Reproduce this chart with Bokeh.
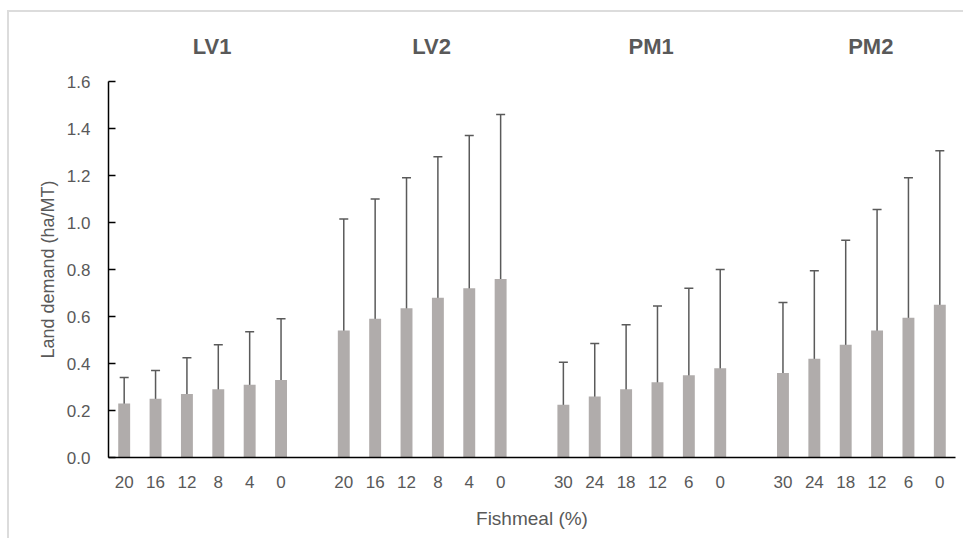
from bokeh.plotting import figure
from bokeh.models import (ColumnDataSource, Whisker, LinearAxis, FixedTicker,
                          Range1d, NumeralTickFormatter)
from bokeh.embed import file_html
from bokeh.resources import INLINE

# ---- data ----
groups = ["LV1", "LV2", "PM1", "PM2"]
lv_fishmeal = ["20", "16", "12", "8", "4", "0"]
pm_fishmeal = ["30", "24", "18", "12", "6", "0"]

LV1_mean = [0.23, 0.25, 0.27, 0.29, 0.31, 0.33]
LV1_upper = [0.34, 0.37, 0.425, 0.48, 0.535, 0.59]
LV1_lower = [0.15, 0.165, 0.18, 0.20, 0.22, 0.24]

LV2_mean = [0.54, 0.59, 0.635, 0.68, 0.72, 0.76]
LV2_upper = [1.015, 1.10, 1.19, 1.28, 1.37, 1.46]
LV2_lower = [0.32, 0.36, 0.395, 0.43, 0.455, 0.485]

PM1_mean = [0.225, 0.26, 0.29, 0.32, 0.35, 0.38]
PM1_upper = [0.405, 0.485, 0.565, 0.645, 0.72, 0.80]
PM1_lower = [0.165, 0.19, 0.22, 0.245, 0.275, 0.305]

PM2_mean = [0.36, 0.42, 0.48, 0.54, 0.595, 0.65]
PM2_upper = [0.66, 0.795, 0.925, 1.055, 1.19, 1.305]
PM2_lower = [0.24, 0.28, 0.32, 0.36, 0.40, 0.44]

y_ticks = [0.0, 0.2, 0.4, 0.6, 0.8, 1.0, 1.2, 1.4, 1.6]

# ---- assemble ----
means = [LV1_mean, LV2_mean, PM1_mean, PM2_mean]
uppers = [LV1_upper, LV2_upper, PM1_upper, PM2_upper]
lowers = [LV1_lower, LV2_lower, PM1_lower, PM2_lower]
labels = [lv_fishmeal, lv_fishmeal, pm_fishmeal, pm_fishmeal]

SLOT = 7  # 6 bars + one empty slot between groups
xs, ms, us, ls, overrides = [], [], [], [], {}
for g in range(len(groups)):
    for i in range(len(means[g])):
        x = g * SLOT + i
        xs.append(x)
        ms.append(means[g][i])
        us.append(uppers[g][i])
        ls.append(lowers[g][i])
        overrides[x] = labels[g][i]

src = ColumnDataSource(dict(x=xs, mean=ms, upper=us, lower=ls))

FONT = "Liberation Sans"
TXT = "#595959"

p = figure(width=956, height=528, output_backend="svg", toolbar_location=None,
           x_range=Range1d(-0.5, max(xs) + 0.5),
           y_range=Range1d(0, 1.6),
           min_border_left=99, min_border_right=10,
           min_border_top=69, min_border_bottom=83)
p.styles = {"border-top": "2px solid #dcdcdc", "border-left": "2px solid #dcdcdc",
            "margin-top": "10px", "margin-left": "7px"}
p.outline_line_color = None
p.xgrid.visible = False
p.ygrid.visible = False
p.xaxis.visible = False
p.yaxis.visible = False

p.vbar(x="x", top="mean", width=0.38, bottom=0, source=src,
       fill_color="#b0acab", line_color=None)

wh = Whisker(base="x", upper="upper", lower="lower", source=src,
             line_color="#5a5a5a", line_width=1.5)
wh.upper_head.size = 9
wh.lower_head.size = 9
wh.upper_head.line_color = "#5a5a5a"
wh.lower_head.line_color = "#5a5a5a"
wh.upper_head.line_width = 1.5
wh.lower_head.line_width = 1.5
p.add_layout(wh)

# y axis
ya = LinearAxis(ticker=FixedTicker(ticks=y_ticks),
                formatter=NumeralTickFormatter(format="0.0"),
                axis_label="Land demand (ha/MT)")
ya.major_tick_in = 7
ya.major_tick_out = 0
ya.minor_tick_line_color = None
ya.axis_line_color = "black"
ya.axis_line_width = 1.5
ya.major_tick_line_color = "black"
ya.major_tick_line_width = 1.5
ya.major_label_text_font = FONT
ya.major_label_text_font_size = "17px"
ya.major_label_text_color = TXT
ya.major_label_standoff = 18
ya.axis_label_text_font = FONT
ya.axis_label_text_font_size = "18px"
ya.axis_label_text_font_style = "normal"
ya.axis_label_text_color = TXT
ya.axis_label_standoff = 6
p.add_layout(ya, "left")

# bottom axis with fishmeal labels
xa = LinearAxis(ticker=FixedTicker(ticks=xs), major_label_overrides=overrides,
                axis_label="Fishmeal (%)")
xa.major_tick_in = 0
xa.major_tick_out = 0
xa.minor_tick_line_color = None
xa.axis_line_color = "black"
xa.axis_line_width = 1.5
xa.major_label_text_font = FONT
xa.major_label_text_font_size = "17px"
xa.major_label_text_color = TXT
xa.major_label_standoff = 18
xa.axis_label_text_font = FONT
xa.axis_label_text_font_size = "19px"
xa.axis_label_text_font_style = "normal"
xa.axis_label_text_color = TXT
xa.axis_label_standoff = 17
p.add_layout(xa, "below")

# group titles on top
title_ticks = [g * SLOT + 2.5 + 0.3 for g in range(len(groups))]
ta = LinearAxis(ticker=FixedTicker(ticks=title_ticks),
                major_label_overrides={t: groups[g] for g, t in enumerate(title_ticks)})
ta.axis_line_color = None
ta.major_tick_line_color = None
ta.minor_tick_line_color = None
ta.major_label_text_font = FONT
ta.major_label_text_font_size = "22px"
ta.major_label_text_font_style = "bold"
ta.major_label_text_color = TXT
ta.major_label_standoff = 17
p.add_layout(ta, "above")

open("out.html", "w").write(file_html(p, INLINE))
